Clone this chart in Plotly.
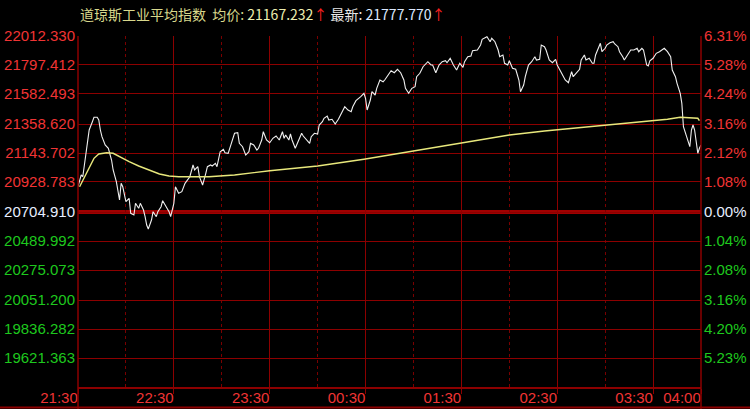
import plotly.graph_objects as go

# ---------------- data ----------------
title_name = "道琼斯工业平均指数"
avg_label = "均价"
avg_value = "21167.232"
last_label = "最新"
last_value = "21777.770"

left_labels = ["22012.330", "21797.412", "21582.493", "21358.620", "21143.702", "20928.783",
               "20704.910", "20489.992", "20275.073", "20051.200", "19836.282", "19621.363"]
right_labels = ["6.31%", "5.28%", "4.24%", "3.16%", "2.12%", "1.08%",
                "0.00%", "1.04%", "2.08%", "3.16%", "4.20%", "5.23%"]
base_value = 20704.910

time_tick_minutes = [0, 60, 120, 180, 240, 300, 360, 390]
time_tick_labels = ["21:30", "22:30", "23:30", "00:30", "01:30", "02:30", "03:30", "04:00"]
half_hour_minutes = [30, 90, 150, 210, 270, 330]
session_minutes = 390

price_minutes = [
    0, 2, 3, 5, 6, 7, 9, 10, 12, 13,
    14, 15, 17, 19, 21, 22, 24, 25, 26, 27,
    28, 30, 32, 33, 35, 36, 38, 39, 41, 42,
    43, 44, 46, 47, 49, 50, 52, 53, 55, 57,
    58, 60, 61, 63, 65, 67, 70, 72, 73, 75,
    76, 78, 80, 81, 83, 84, 86, 87, 89, 91,
    92, 94, 96, 98, 100, 101, 103, 105, 107, 108,
    110, 112, 113, 115, 116, 118, 120, 122, 124, 126,
    128, 129, 130, 132, 133, 134, 136, 138, 140, 141,
    143, 145, 146, 148, 150, 151, 153, 154, 156, 157,
    159, 161, 163, 165, 167, 169, 171, 172, 174, 177,
    179, 180, 181, 183, 184, 186, 187, 189, 191, 192,
    194, 196, 198, 200, 202, 204, 205, 207, 209, 211,
    212, 214, 216, 219, 221, 222, 224, 226, 228, 230,
    231, 233, 235, 237, 239, 241, 242, 244, 246, 247,
    250, 252, 253, 255, 256, 258, 259, 261, 263, 264,
    266, 267, 269, 270, 272, 274, 276, 277, 279, 280,
    282, 284, 286, 287, 289, 290, 292, 293, 295, 297,
    299, 300, 302, 304, 305, 307, 309, 310, 312, 314,
    315, 317, 318, 320, 322, 323, 324, 326, 327, 328,
    330, 331, 333, 335, 336, 338, 339, 341, 342, 344,
    346, 348, 350, 351, 353, 354, 356, 357, 358, 360,
    362, 364, 366, 367, 369, 371, 372, 374, 375, 377,
    378, 379, 381, 382, 383, 384, 385, 386, 387, 388,
    389, 390,
]
price_values = [
    20893.5, 20980.4, 20967.7, 21143.7, 21264.7, 21314.4, 21376.1, 21408.7, 21408.7, 21388.7,
    21314.4, 21264.7, 21203.1, 21178.6, 21091.7, 21017.5, 20930.6, 20844.5, 20794.8, 20918.7,
    20893.5, 20782.1, 20807.4, 20696.0, 20683.4, 20770.3, 20733.1, 20770.3, 20720.5, 20670.8,
    20609.2, 20579.5, 20646.3, 20707.9, 20670.8, 20707.9, 20745.0, 20789.6, 20745.0, 20707.9,
    20670.8, 20770.3, 20893.5, 20844.5, 20856.4, 20918.7, 20967.7, 21054.6, 21017.5, 21042.0,
    20967.7, 20906.1, 20993.0, 21042.0, 21054.6, 21047.2, 21067.2, 21042.0, 21153.3, 21171.2,
    21145.9, 21141.5, 21215.7, 21289.9, 21294.4, 21215.7, 21190.5, 21128.8, 21153.3, 21215.7,
    21203.1, 21166.0, 21178.6, 21240.2, 21301.8, 21240.2, 21220.2, 21252.8, 21269.9, 21240.2,
    21301.8, 21252.8, 21277.3, 21240.2, 21284.7, 21240.2, 21178.6, 21240.2, 21289.9, 21269.9,
    21240.2, 21215.7, 21264.7, 21289.9, 21284.7, 21351.6, 21376.1, 21401.3, 21418.4, 21388.7,
    21393.9, 21359.0, 21393.9, 21442.9, 21487.4, 21462.9, 21450.3, 21487.4, 21532.0, 21561.7,
    21586.9, 21549.8, 21462.9, 21537.2, 21598.8, 21574.3, 21624.0, 21685.6, 21673.0, 21685.6,
    21722.8, 21754.7, 21739.8, 21765.1, 21739.8, 21685.6, 21624.0, 21586.9, 21624.0, 21635.9,
    21710.1, 21735.4, 21784.4, 21821.5, 21797.0, 21797.0, 21739.8, 21797.0, 21821.5, 21828.9,
    21814.1, 21846.7, 21797.0, 21759.9, 21809.6, 21779.9, 21821.5, 21858.6, 21863.8, 21903.2,
    21908.4, 21945.5, 21987.8, 22002.6, 22007.1, 21970.0, 21995.2, 21970.0, 21908.4, 21858.6,
    21871.2, 21809.6, 21797.0, 21828.9, 21772.5, 21765.1, 21685.6, 21598.8, 21648.5, 21710.1,
    21797.0, 21821.5, 21858.6, 21834.1, 21839.3, 21945.5, 21932.9, 21908.4, 21834.1, 21814.1,
    21839.3, 21797.0, 21747.3, 21698.3, 21685.6, 21665.6, 21747.3, 21710.1, 21735.4, 21765.1,
    21834.1, 21871.2, 21834.1, 21846.7, 21809.6, 21809.6, 21871.2, 21938.1, 21958.1, 21895.7,
    21921.0, 21945.5, 21962.6, 21970.0, 21952.9, 21932.9, 21895.7, 21858.6, 21834.1, 21871.2,
    21908.4, 21908.4, 21921.0, 21895.7, 21921.0, 21908.4, 21797.0, 21789.6, 21828.9, 21846.7,
    21883.9, 21895.7, 21913.6, 21921.0, 21895.7, 21858.6, 21759.9, 21710.1, 21661.1, 21586.9,
    21512.7, 21338.9, 21264.7, 21227.6, 21190.5, 21314.4, 21351.6, 21314.4, 21203.1, 21141.5,
    21178.6, 21203.1,
]

avg_minutes = [1, 4, 7, 10, 13, 18, 22, 26, 32, 38, 45, 51, 57, 63, 72, 82, 91, 98,
               120, 150, 179, 195, 210, 240, 255, 270, 292, 310, 330, 352, 369, 377,
               385, 388, 389]
avg_values = [20893.5, 20967.7, 21042.0, 21104.3, 21136.3, 21145.9, 21141.5, 21116.2,
              21079.1, 21047.2, 21012.3, 20987.8, 20972.9, 20967.7, 20967.7, 20967.7,
              20975.2, 20980.4, 21012.3, 21047.2, 21096.9, 21128.8, 21160.8, 21215.7,
              21245.4, 21277.3, 21307.0, 21327.1, 21346.4, 21376.1, 21393.9, 21408.7,
              21403.5, 21401.3, 21383.5]

assert len(price_minutes) == len(price_values)
assert len(avg_minutes) == len(avg_values)

# ---------------- style ----------------
BG = "#000000"
GRID = "#8c0000"
DOT_GRID = "#7a0000"
RED = "#f03434"
GREEN = "#1ec81e"
WHITE_BLUE = "#e6eeff"
TITLE_YELLOW = "#d8d88c"
NUM_YELLOW = "#eeeeb0"
FONT = "Liberation Sans, Arial, Noto Sans CJK SC, sans-serif"
CJK_FONT = "Noto Sans CJK SC, Liberation Sans, sans-serif"

tick_vals = [float(s) for s in left_labels]
y_top = tick_vals[0]
y_bottom = 2 * tick_vals[-1] - tick_vals[-2]


def colored(text, value):
    if abs(value - base_value) < 1e-6:
        c = WHITE_BLUE
    elif value > base_value:
        c = RED
    else:
        c = GREEN
    return f'<span style="color:{c}">{text}</span>'


left_text = [colored(t, v) for t, v in zip(left_labels, tick_vals)]
right_text = [colored(t, v) for t, v in zip(right_labels, tick_vals)]

fig = go.Figure()
fig.add_trace(go.Scatter(
    x=price_minutes, y=price_values, mode="lines",
    line=dict(color="#f0f0f0", width=1.1), hoverinfo="skip", yaxis="y",
))
fig.add_trace(go.Scatter(
    x=avg_minutes, y=avg_values, mode="lines",
    line=dict(color="#e8e87c", width=1.4), hoverinfo="skip", yaxis="y2",
))

W, H = 750, 409
ML, MR, MT, MB = 78, 49, 36, 22
pw, ph = W - ML - MR, H - MT - MB

fig.update_layout(
    width=W, height=H,
    margin=dict(l=ML, r=MR, t=MT, b=MB, pad=0, autoexpand=False),
    paper_bgcolor=BG, plot_bgcolor=BG,
    showlegend=False,
    font=dict(family=FONT, size=15, color=RED),
    xaxis=dict(
        range=[0, session_minutes], tickmode="array",
        tickvals=time_tick_minutes, ticktext=time_tick_labels,
        showgrid=True, gridcolor=GRID, gridwidth=1,
        ticks="outside", ticklen=5, tickcolor=GRID, tickwidth=1,
        showline=True, linecolor=GRID, linewidth=2,
        zeroline=False, fixedrange=True, automargin=False,
        tickfont=dict(family=FONT, size=15, color=RED),
        ticklabelshift=-19, ticklabelstandoff=-9,
        minor=dict(tickvals=half_hour_minutes, showgrid=True, griddash="dot",
                   gridcolor=DOT_GRID, gridwidth=1, ticks=""),
    ),
    yaxis=dict(
        range=[y_bottom, y_top], tickmode="array",
        tickvals=tick_vals, ticktext=left_text,
        showgrid=True, gridcolor=GRID, gridwidth=1,
        zeroline=False, showline=False, ticks="",
        tickfont=dict(family=FONT, size=15, color=RED),
        ticklabelstandoff=2, fixedrange=True, automargin=False,
    ),
    yaxis2=dict(
        range=[y_bottom, y_top], overlaying="y", side="right",
        tickmode="array", tickvals=tick_vals, ticktext=right_text,
        showgrid=False, zeroline=False, showline=False, ticks="",
        tickfont=dict(family=FONT, size=15, color=RED),
        ticklabelstandoff=2, fixedrange=True, automargin=False,
    ),
)

# base (previous close) line, thicker
fig.add_shape(type="line", xref="paper", x0=0, x1=1, yref="y", y0=base_value, y1=base_value,
              line=dict(color="#a00000", width=4), layer="below")
# frame: side borders down to the bottom edge, and bottom rule
ybot_paper = -MB / ph
fig.add_shape(type="line", xref="paper", yref="paper", x0=0, x1=0, y0=ybot_paper, y1=1,
              line=dict(color=GRID, width=1.5))
fig.add_shape(type="line", xref="paper", yref="paper", x0=1, x1=1, y0=ybot_paper, y1=1,
              line=dict(color=GRID, width=1.5))
fig.add_shape(type="line", xref="paper", yref="paper", x0=-ML / pw, x1=(W - ML) / pw,
              y0=-(MB - 1.5) / ph, y1=-(MB - 1.5) / ph,
              line=dict(color=GRID, width=2))

title_html = (
    f'<span style="color:{TITLE_YELLOW}">{title_name}  {avg_label}: </span>'
    f'<span style="color:{NUM_YELLOW}">{avg_value}</span>'
    f'<span style="color:#ff2020">↑</span> '
    f'<span style="color:#e8e8e8">{last_label}: </span>'
    f'<span style="color:#dce8ff">{last_value}</span>'
    f'<span style="color:#ff2020">↑</span>'
)
fig.add_annotation(text=title_html, xref="paper", yref="paper", x=0, y=1 + 22 / ph,
                   xanchor="left", yanchor="middle", showarrow=False,
                   font=dict(family=CJK_FONT, size=14, color=TITLE_YELLOW))

fig.write_html(
    "out.html",
    config={"displayModeBar": False},
    post_script="document.body.style.margin='0px';document.body.style.overflow='hidden';",
)
